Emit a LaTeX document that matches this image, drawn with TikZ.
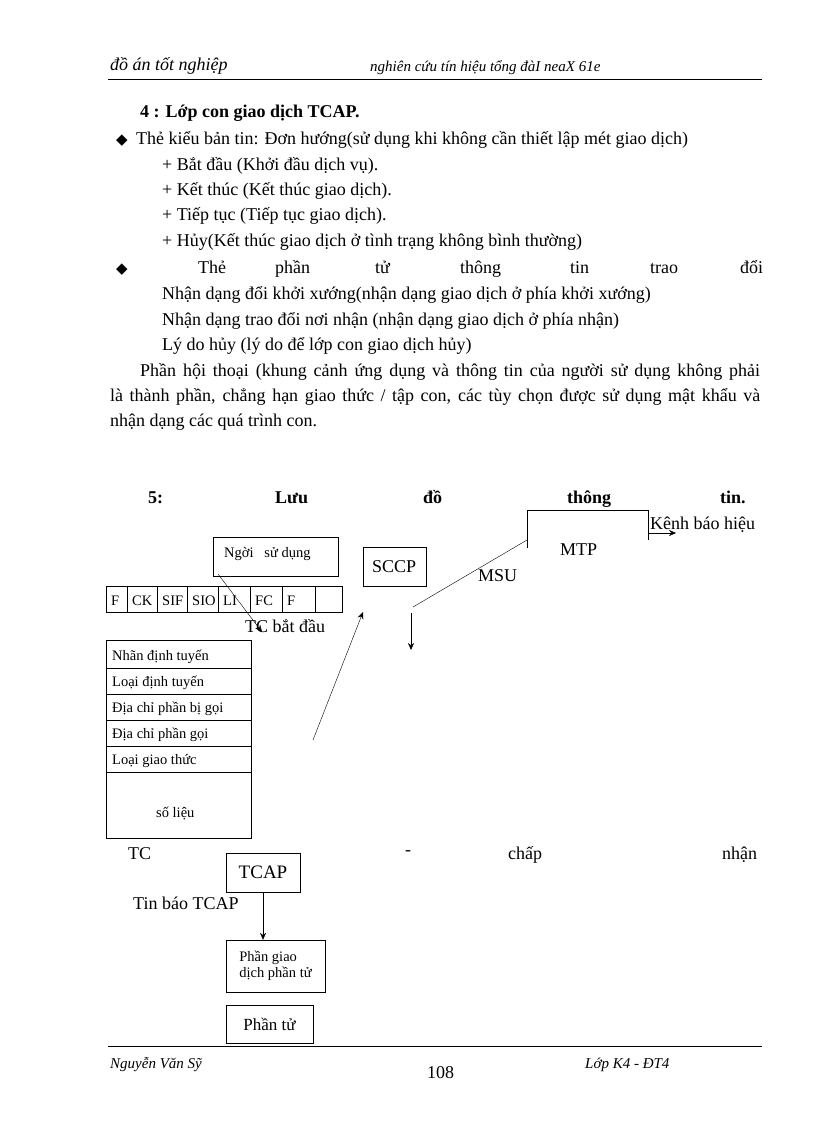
\documentclass[tikz,border=0pt]{standalone}
\usepackage{fontspec}
\usetikzlibrary{arrows.meta}
\setmainfont{Liberation Serif}
\newfontfamily\symfont{DejaVu Sans}
\begin{document}
\begin{tikzpicture}[x=1pt,y=-1pt,
  txt/.style={anchor=base west,inner sep=0pt,font=\fontsize{18}{20}\selectfont},
  sm/.style={anchor=base west,inner sep=0pt,font=\fontsize{14.5}{16}\selectfont},
  bx/.style={draw,thin},
  arr/.style={-{Stealth[length=7pt,width=6pt]}}]
\useasboundingbox (0,0) rectangle (816,1123);
% header
\node[txt,font=\fontsize{18}{20}\itshape] (h1) at (110,71) {đồ án tốt nghiệp};
\node[txt,font=\fontsize{15}{17}\itshape] (h2) at (370,72) {nghiên cứu tín hiệu tổng đàI neaX 61e};
\draw (108,79) -- (762,79);
% text
\node[txt,font=\fontsize{18}{20}\bfseries] (t0) at (140,118) {4 : Lớp con giao dịch TCAP.};
\node[txt,font=\fontsize{15}{17}\symfont] (b1) at (116,145) {◆};
\node[txt] (t1) at (136,145) {Thẻ kiểu bản tin: Đơn hướng(sử dụng khi không cần thiết lập mét giao dịch)};
\node[txt] (t2) at (162,171) {+ Bắt đầu (Khởi đầu dịch vụ).};
\node[txt] (t3) at (162,196) {+ Kết thúc (Kết thúc giao dịch).};
\node[txt] (t4) at (162,221) {+ Tiếp tục (Tiếp tục giao dịch).};
\node[txt] (t5) at (162,247) {+ Hủy(Kết thúc giao dịch ở tình trạng không bình thường)};
\node[txt,font=\fontsize{15}{17}\symfont] (b2) at (116,273) {◆};
\node[txt] (w1) at (198,273) {Thẻ};
\node[txt] (w2) at (275,273) {phần};
\node[txt] (w3) at (375,273) {tử};
\node[txt] (w4) at (460,273) {thông};
\node[txt] (w5) at (570,273) {tin};
\node[txt] (w6) at (650,273) {trao};
\node[txt] (w7) at (740,273) {đổi};
\node[txt] (t6) at (162,299) {Nhận dạng đổi khởi xướng(nhận dạng giao dịch ở phía khởi xướng)};
\node[txt] (t7) at (162,325) {Nhận dạng trao đổi nơi nhận (nhận dạng giao dịch ở phía nhận)};
\node[txt] (t8) at (162,350) {Lý do hủy (lý do để lớp con giao dịch hủy)};
\node[txt] (p1) at (140,376) {\makebox[620pt][s]{Phần hội thoại (khung cảnh ứng dụng và thông tin của người sử dụng không phải}};
\node[txt] (p2) at (110,401) {\makebox[650pt][s]{là thành phần, chẳng hạn giao thức / tập con, các tùy chọn được sử dụng mật khẩu và}};
\node[txt] (p3) at (110,426) {nhận dạng các quá trình con.};
% section 5
\node[txt,font=\fontsize{18}{20}\bfseries] (s1) at (148,503) {5:};
\node[txt,font=\fontsize{18}{20}\bfseries] (s2) at (275,503) {Lưu};
\node[txt,font=\fontsize{18}{20}\bfseries] (s3) at (423,503) {đồ};
\node[txt,font=\fontsize{18}{20}\bfseries] (s4) at (567,503) {thông};
\node[txt,font=\fontsize{18}{20}\bfseries] (s5) at (720,503) {tin.};
% diagram
\draw[bx] (213,537) rectangle (338,576);
\node[sm] (ngoi) at (224,557) {Ngời \ \ sử dụng};
\coordinate (ngl) at (218,574);
\draw[bx] (363,547) rectangle (426,586);
\node[txt] (sccp) at (372,572) {SCCP};
\draw (527,548) -- (527,510) -- (648,510) -- (648,540);
\node[txt] (mtp) at (560,555) {MTP};
\node[txt] (kenh) at (650,529) {Kênh báo hiệu};
\coordinate (k1) at (648,533); \coordinate (k2) at (676,533);
\draw[arr] (k1) -- (k2);
\node[txt] (msu) at (478,581) {MSU};
\coordinate (m1) at (413,607); \coordinate (m2) at (527,540);
\draw (m1) -- (m2);
\coordinate (d1) at (411,613); \coordinate (d2) at (411,650);
\draw[arr] (d1) -- (d2);
% row
\foreach \a/\b/\l in {106/127/F,127/157/CK,157/187/SIF,187/218/SIO,218/250/LI,250/282/FC,282/315/F,315/342/}{
  \draw[bx] (\a,586) rectangle (\b,612);
  \node[sm] at (\a+5,605) {\l};}
\node[txt] (tcb) at (245,632) {TC bắt đầu};
\coordinate (tcp) at (262,632);
\draw[arr] (ngl) -- (tcp);
\coordinate (a1) at (313,740); \coordinate (a2) at (363,612);
\draw[arr] (a1) -- (a2);
% stack
\draw[bx] (106,640) rectangle (251,838);
\foreach \y in {668,694,720,746,772} \draw (106,\y) -- (251,\y);
\node[sm] at (112,660) {Nhãn định tuyến};
\node[sm] at (112,686) {Loại định tuyến};
\node[sm] at (112,712) {Địa chỉ phần bị gọi};
\node[sm] at (112,738) {Địa chỉ phần gọi};
\node[sm] at (112,764) {Loại giao thức};
\node[sm] at (156,817) {số liệu};
% bottom
\node[txt] (tc) at (128,859) {TC};
\node[txt] (dash) at (405,855) {-};
\node[txt] (chap) at (508,859) {chấp};
\node[txt] (nhan) at (722,859) {nhận};
\node[bx,minimum width=74pt,minimum height=39pt,font=\fontsize{19}{21}\selectfont] (tcap) at (263,872.5) {TCAP};
\node[txt] (tinbao) at (133,909) {Tin báo TCAP};
\node[bx,minimum width=99pt,minimum height=52pt,font=\fontsize{14.5}{16}\selectfont,align=left] (pgd) at (275.5,966) {Phần giao\\dịch phần tử};
\draw[arr] (tcap) -- (pgd.north -| tcap);
\node[bx,minimum width=87pt,minimum height=38pt,font=\fontsize{17}{19}\selectfont] (pt) at (269.5,1024) {Phần tử};
% footer
\draw (108,1046) -- (762,1046);
\node[txt,font=\fontsize{15}{17}\itshape] (f1) at (110,1068) {Nguyễn Văn Sỹ};
\node[txt] (f2) at (427,1078) {108};
\node[txt,font=\fontsize{15}{17}\itshape] (f3) at (585,1068) {Lớp K4 - ĐT4};
\end{tikzpicture}
\end{document}
